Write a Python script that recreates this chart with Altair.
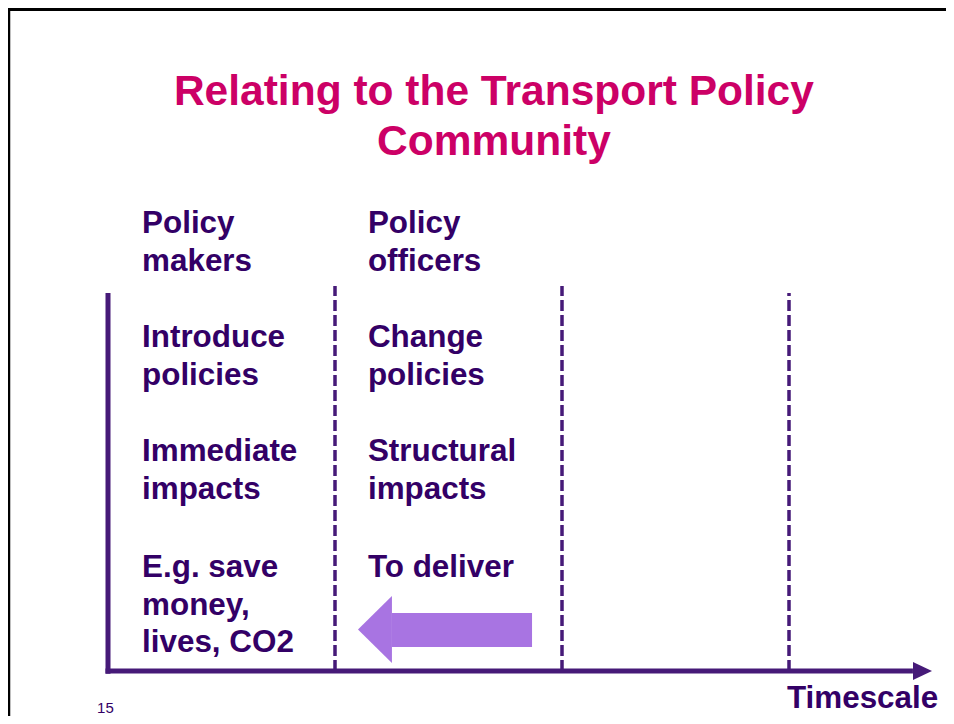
import altair as alt
import pandas as pd

# ---------------- data ----------------
# Columns of the timescale diagram (x in "timescale column" units, y in text-line units above the time axis)
col_labels_x = [0.15, 1.145]
block_y = [11.68, 8.64, 5.6, 2.5]
col1_text = ["Policy\nmakers", "Introduce\npolicies", "Immediate\nimpacts", "E.g. save\nmoney,\nlives, CO2"]
col2_text = ["Policy\nofficers", "Change\npolicies", "Structural\nimpacts", "To deliver"]

divider_x = [1, 2, 3]
divider_top = [10.27, 10.27, 10.08]

axis_top = 10.08
axis_end = 3.546
axis_head_x = 3.588

arrow_body_x = [1.251, 1.868]
arrow_body_y = [0.64, 1.547]
arrow_head = (1.176, 1.107)

title_lines = ["Relating to the Transport Policy", "Community"]
title_x = 1.70
title_y = 15.09

footer_label = "Timescale"
footer_x, footer_y = 2.991, -0.98
page_no = "15"
page_x, page_y = -0.048, -1.13

# ---------------- layout ----------------
W, H = 938, 708
X_ORIGIN, COL_PX = 100.0, 227.0
Y_AXIS, LINE_PX = 663.0, 37.5
xdom = [(0 - X_ORIGIN) / COL_PX, (W - X_ORIGIN) / COL_PX]
ydom = [(Y_AXIS - H) / LINE_PX, (Y_AXIS - 0) / LINE_PX]

xs = alt.Scale(domain=xdom, range=[0, W], nice=False, zero=False)
ys = alt.Scale(domain=ydom, range=[H, 0], nice=False, zero=False)
noax = None

LINE = "#461A78"
TEXT = "#330066"
TITLE = "#CC0066"
ARROW = "#A874E2"
FONT = "Liberation Sans"

def X(f="x"):
    return alt.X(f"{f}:Q", scale=xs, axis=noax)

def Y(f="y"):
    return alt.Y(f"{f}:Q", scale=ys, axis=noax)

# frame
frame_top = alt.Chart(pd.DataFrame({"a": [0]})).mark_rule(color="black", strokeWidth=3).encode(
    x=alt.value(0), x2=alt.value(W), y=alt.value(1.5))
frame_left = alt.Chart(pd.DataFrame({"a": [0]})).mark_rule(color="black", strokeWidth=2.5).encode(
    x=alt.value(1), y=alt.value(0), y2=alt.value(H))

# axes
vaxis = alt.Chart(pd.DataFrame({"x": [0.0], "y": [-0.07], "y2": [axis_top]})).mark_rule(
    color=LINE, strokeWidth=5).encode(x=X(), y=Y(), y2="y2:Q")
haxis = alt.Chart(pd.DataFrame({"x": [-0.011], "x2": [axis_end], "y": [0.0]})).mark_rule(
    color=LINE, strokeWidth=5).encode(x=X(), x2="x2:Q", y=Y())
head = alt.Chart(pd.DataFrame({"x": [axis_head_x], "y": [0.0]})).mark_point(
    shape="M-1,-0.95 L1,0 L-1,0.95 Z", size=361, filled=True, fill=LINE, opacity=1, strokeWidth=0
).encode(x=X(), y=Y())

# dividers
div_df = pd.DataFrame({"x": divider_x, "y": [0.0] * 3, "y2": divider_top})
dividers = alt.Chart(div_df).mark_rule(color=LINE, strokeWidth=3.5, strokeDash=[11, 4]).encode(
    x=X(), y=Y(), y2="y2:Q")

# purple arrow
body = alt.Chart(pd.DataFrame({"x": [arrow_body_x[0]], "x2": [arrow_body_x[1]],
                               "y": [arrow_body_y[0]], "y2": [arrow_body_y[1]]})).mark_rect(
    color=ARROW).encode(x=X(), x2="x2:Q", y=Y(), y2="y2:Q")
ahead = alt.Chart(pd.DataFrame({"x": [arrow_head[0]], "y": [arrow_head[1]]})).mark_point(
    shape="M0.507,-1 L-0.507,0 L0.507,1 Z", size=4489, filled=True, fill=ARROW, opacity=1, strokeWidth=0
).encode(x=X(), y=Y())

# body text
rows = []
for cx, texts in zip(col_labels_x, [col1_text, col2_text]):
    for by, t in zip(block_y, texts):
        rows.append({"x": cx, "y": by, "t": t})
body_text = alt.Chart(pd.DataFrame(rows)).mark_text(
    align="left", baseline="alphabetic", font=FONT, fontWeight="bold", fontSize=31.4,
    color=TEXT, lineBreak="\n", lineHeight=37.5).encode(x=X(), y=Y(), text="t:N")

title = alt.Chart(pd.DataFrame({"x": [title_x], "y": [title_y], "t": ["\n".join(title_lines)]})).mark_text(
    align="center", baseline="alphabetic", font=FONT, fontWeight="bold", fontSize=42.5,
    color=TITLE, lineBreak="\n", lineHeight=50).encode(x=X(), y=Y(), text="t:N")

footer = alt.Chart(pd.DataFrame({"x": [footer_x], "y": [footer_y], "t": [footer_label]})).mark_text(
    align="left", baseline="alphabetic", font=FONT, fontWeight="bold", fontSize=31.4,
    color=TEXT).encode(x=X(), y=Y(), text="t:N")

pnum = alt.Chart(pd.DataFrame({"x": [page_x], "y": [page_y], "t": [page_no]})).mark_text(
    align="left", baseline="alphabetic", font=FONT, fontSize=15,
    color=TEXT).encode(x=X(), y=Y(), text="t:N")

chart = alt.layer(frame_top, frame_left, dividers, vaxis, haxis, head, body, ahead,
                  body_text, title, footer, pnum).properties(
    width=W, height=H, padding=0, autosize=alt.AutoSizeParams(type="none")
).configure_view(stroke=None).configure(background="white")

chart.save("out.html", embed_options={"renderer": "svg", "actions": False})
